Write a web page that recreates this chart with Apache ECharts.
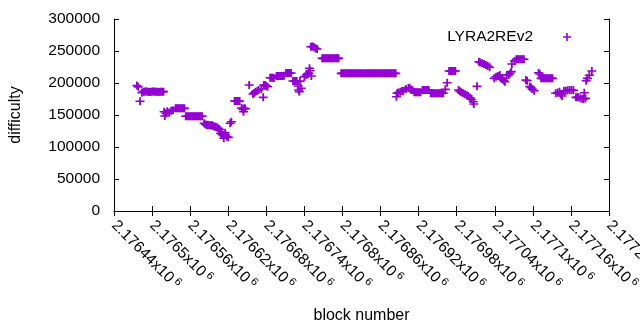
<!DOCTYPE html>
<html>
<head>
<meta charset="utf-8">
<script src="https://cdn.jsdelivr.net/npm/echarts@6/dist/echarts.min.js"></script>
<style>
  html, body { margin: 0; padding: 0; background: #fff; }
  #chart { width: 640px; height: 330px; }
</style>
</head>
<body>
<div id="chart"></div>
<script>
// Данные
const seriesName = 'LYRA2REv2';
const blockNumbers = [
    2176476, 2176478, 2176481, 2176484, 2176486, 2176488, 2176490, 2176492, 2176494, 2176496,
    2176498, 2176500, 2176502, 2176504, 2176506, 2176508, 2176510, 2176512, 2176514, 2176516,
    2176518, 2176519, 2176520, 2176522, 2176524, 2176527, 2176530, 2176533, 2176537, 2176539,
    2176541, 2176543, 2176545, 2176547, 2176549, 2176551, 2176553, 2176555, 2176557, 2176559,
    2176561, 2176563, 2176565, 2176567, 2176569, 2176571, 2176573, 2176575, 2176577, 2176579,
    2176582, 2176584, 2176586, 2176588, 2176590, 2176592, 2176594, 2176596, 2176598, 2176600,
    2176602, 2176604, 2176606, 2176608, 2176610, 2176612, 2176613, 2176615, 2176616, 2176618,
    2176620, 2176623, 2176625, 2176630, 2176632, 2176634, 2176636, 2176638, 2176641, 2176643,
    2176644, 2176645, 2176647, 2176653, 2176659, 2176661, 2176663, 2176666, 2176668, 2176672,
    2176675, 2176676, 2176678, 2176680, 2176682, 2176686, 2176688, 2176690, 2176692, 2176696,
    2176698, 2176700, 2176702, 2176704, 2176706, 2176708, 2176711, 2176713, 2176715, 2176717,
    2176719, 2176722, 2176724, 2176726, 2176728, 2176730, 2176731, 2176732, 2176733, 2176735,
    2176740, 2176743, 2176745, 2176747, 2176748, 2176749, 2176750, 2176751, 2176752, 2176754,
    2176756, 2176758, 2176760, 2176768, 2176770, 2176772, 2176774, 2176776, 2176778, 2176780,
    2176782, 2176784, 2176786, 2176788, 2176790, 2176792, 2176794, 2176798, 2176800, 2176802,
    2176804, 2176806, 2176808, 2176810, 2176812, 2176814, 2176816, 2176818, 2176820, 2176822,
    2176824, 2176826, 2176828, 2176830, 2176832, 2176834, 2176836, 2176838, 2176840, 2176842,
    2176844, 2176846, 2176848, 2176850, 2176852, 2176854, 2176856, 2176858, 2176860, 2176862,
    2176864, 2176866, 2176868, 2176870, 2176872, 2176874, 2176876, 2176878, 2176880, 2176882,
    2176884, 2176885, 2176886, 2176888, 2176891, 2176894, 2176896, 2176900, 2176904, 2176906,
    2176908, 2176910, 2176913, 2176915, 2176917, 2176919, 2176921, 2176923, 2176926, 2176928,
    2176930, 2176932, 2176934, 2176936, 2176939, 2176941, 2176943, 2176945, 2176947, 2176949,
    2176951, 2176953, 2176955, 2176957, 2176959, 2176962, 2176965, 2176968, 2176970, 2176972,
    2176974, 2176976, 2176978, 2176983, 2176985, 2176987, 2176990, 2176993, 2176996, 2176998,
    2177001, 2177003, 2177006, 2177007, 2177012, 2177015, 2177017, 2177020, 2177023, 2177026,
    2177029, 2177032, 2177039, 2177042, 2177045, 2177048, 2177050, 2177052, 2177054, 2177056,
    2177059, 2177062, 2177064, 2177066, 2177067, 2177071, 2177074, 2177076, 2177078, 2177080,
    2177082, 2177084, 2177086, 2177089, 2177091, 2177095, 2177097, 2177099, 2177102, 2177109,
    2177111, 2177113, 2177115, 2177117, 2177119, 2177121, 2177123, 2177125, 2177127, 2177129,
    2177131, 2177136, 2177139, 2177142, 2177144, 2177146, 2177149, 2177152, 2177155, 2177158,
    2177161, 2177164, 2177168, 2177170, 2177172, 2177175, 2177178, 2177180, 2177181, 2177183,
    2177184, 2177186, 2177189, 2177193
];
const difficulty = [
    196000, 194000, 171400, 184800, 186500, 186500, 187000, 186500, 186500, 186000,
    186500, 186500, 187000, 186500, 186500, 186500, 186000, 186500, 186500, 186500,
    186500, 155100, 148400, 152600, 156000, 154000, 156500, 157500, 160400, 160400,
    160400, 160400, 160400, 160400, 160400, 160400, 148000, 148000, 148000, 148000,
    148000, 148000, 148000, 148000, 148000, 148000, 148000, 148000, 148000, 148000,
    137000, 135500, 134400, 134400, 134400, 133500, 134400, 133000, 132000, 131700,
    131000, 129200, 127600, 121400, 119800, 118700, 113600, 122300, 118700, 116100,
    115100, 137000, 139500, 171900, 171900, 171900, 171900, 171900, 161000, 159000,
    155100, 160400, 160000, 196900, 182800, 184500, 186500, 187800, 189100, 190600,
    177600, 196900, 196900, 195500, 194200, 208300, 208300, 208300, 208000, 210900,
    210900, 211000, 210900, 211000, 210900, 211500, 215600, 215600, 215600, 215600,
    215600, 203100, 203100, 203100, 203100, 195300, 189000, 186400, 203000, 191700,
    209800, 212500, 214000, 215100, 223000, 219300, 256700, 210900, 257000, 256700,
    255500, 254000, 253100, 238500, 238500, 238500, 238500, 238500, 238500, 238500,
    238500, 238500, 238500, 238500, 238500, 238500, 238500, 215100, 215100, 215100,
    215100, 215100, 215100, 215100, 215100, 215100, 215100, 215100, 215100, 215100,
    215100, 215100, 215100, 215100, 215100, 215100, 215100, 215100, 215100, 215100,
    215100, 215100, 215100, 215100, 215100, 215100, 215100, 215100, 215100, 215100,
    215100, 215100, 215100, 215100, 215100, 215100, 215100, 215100, 215100, 215100,
    215100, 178600, 183900, 185000, 186400, 187500, 188000, 190500, 192700, 191700,
    190000, 189100, 185400, 185400, 185400, 185400, 185400, 185400, 189100, 189100,
    189100, 189100, 189100, 189100, 183900, 183900, 183900, 183900, 183900, 183900,
    183900, 183900, 183900, 183900, 183900, 190100, 200500, 218800, 218800, 218800,
    218800, 218800, 218800, 189100, 187000, 185400, 184000, 182300, 181000, 179700,
    177000, 174500, 170800, 167200, 194800, 233300, 232000, 230700, 229500, 228100,
    226500, 224500, 207300, 209800, 211000, 212500, 208000, 205800, 204000, 202000,
    212500, 212500, 215000, 217700, 229700, 234400, 237000, 237000, 237000, 237000,
    237000, 237000, 237000, 204700, 203500, 194500, 193200, 190500, 188000, 216100,
    214000, 207300, 207300, 207300, 207300, 207300, 207300, 207300, 207300, 207300,
    207300, 183900, 185000, 186400, 182000, 179700, 188000, 188000, 188500, 189100,
    189100, 188500, 177600, 177600, 177600, 176000, 175500, 175000, 184800, 176000,
    203600, 207300, 212000, 218800
];
const xMin = 2176440;
const xMax = 2177220;
const xStep = 60;
const yMin = 0;
const yMax = 300000;
const yStep = 50000;

// Оформление
const FONT = 'Liberation Sans, Arial, sans-serif';
const FONT_SIZE = 15.5;
const COLOR = '#9400d3';
const PLUS = 'path://M0,36L90,36L90,54L0,54Z M36,0L54,0L54,90L36,90Z';

const points = blockNumbers.map((b, i) => [b, difficulty[i]]);

const chart = echarts.init(document.getElementById('chart'), null, { renderer: 'canvas' });

const axisLine = { show: true, lineStyle: { color: '#000', width: 1 } };
const axisTick = { show: true, inside: true, length: 5, lineStyle: { color: '#000', width: 1 } };

const option = {
    animation: false,
    backgroundColor: '#fff',
    textStyle: { fontFamily: FONT },
    grid: { left: 114, right: 31, top: 19, bottom: 119, containLabel: false, outerBoundsMode: 'none' },
    legend: {
        data: [{ name: seriesName, icon: PLUS }],
        right: 64,
        top: 24,
        align: 'right',
        itemWidth: 58,
        itemHeight: 8,
        itemStyle: { color: COLOR },
        textStyle: { fontSize: FONT_SIZE, color: '#000', fontFamily: FONT }
    },
    xAxis: [
        {
            type: 'value',
            position: 'bottom',
            min: xMin,
            max: xMax,
            interval: xStep,
            name: 'block number',
            nameLocation: 'middle',
            nameGap: 97,
            nameTextStyle: { fontSize: 16, color: '#000', fontFamily: FONT },
            axisLine: axisLine,
            axisTick: axisTick,
            splitLine: { show: false },
            axisLabel: {
                rotate: -45,
                margin: 12,
                showMinLabel: true,
                showMaxLabel: true,
                color: '#000',
                fontSize: FONT_SIZE,
                fontFamily: FONT,
                formatter: v => '{m|' + (v / 1e6) + 'x10}{s|6}',
                rich: {
                    m: { fontSize: FONT_SIZE, fontFamily: FONT, color: '#000', lineHeight: 18 },
                    s: { fontSize: 11, fontFamily: FONT, color: '#000', verticalAlign: 'top', padding: [0, 0, 0, 3] }
                }
            }
        },
        {
            type: 'value',
            position: 'top',
            min: xMin,
            max: xMax,
            interval: xStep,
            axisLine: axisLine,
            axisTick: axisTick,
            axisLabel: { show: false },
            splitLine: { show: false }
        }
    ],
    yAxis: [
        {
            type: 'value',
            position: 'left',
            min: yMin,
            max: yMax,
            interval: yStep,
            name: 'difficulty',
            nameLocation: 'middle',
            nameGap: 90,
            nameTextStyle: { fontSize: 16, color: '#000', fontFamily: FONT },
            axisLine: axisLine,
            axisTick: axisTick,
            splitLine: { show: false },
            axisLabel: {
                margin: 14,
                color: '#000',
                fontSize: FONT_SIZE,
                fontFamily: FONT,
                formatter: v => String(v)
            }
        },
        {
            type: 'value',
            position: 'right',
            min: yMin,
            max: yMax,
            interval: yStep,
            axisLine: axisLine,
            axisTick: axisTick,
            axisLabel: { show: false },
            splitLine: { show: false }
        }
    ],
    series: [
        {
            name: seriesName,
            type: 'scatter',
            symbol: PLUS,
            symbolSize: [9, 8],
            symbolKeepAspect: false,
            itemStyle: { color: COLOR, opacity: 1 },
            data: points
        }
    ]
};

chart.setOption(option);
</script>
</body>
</html>
